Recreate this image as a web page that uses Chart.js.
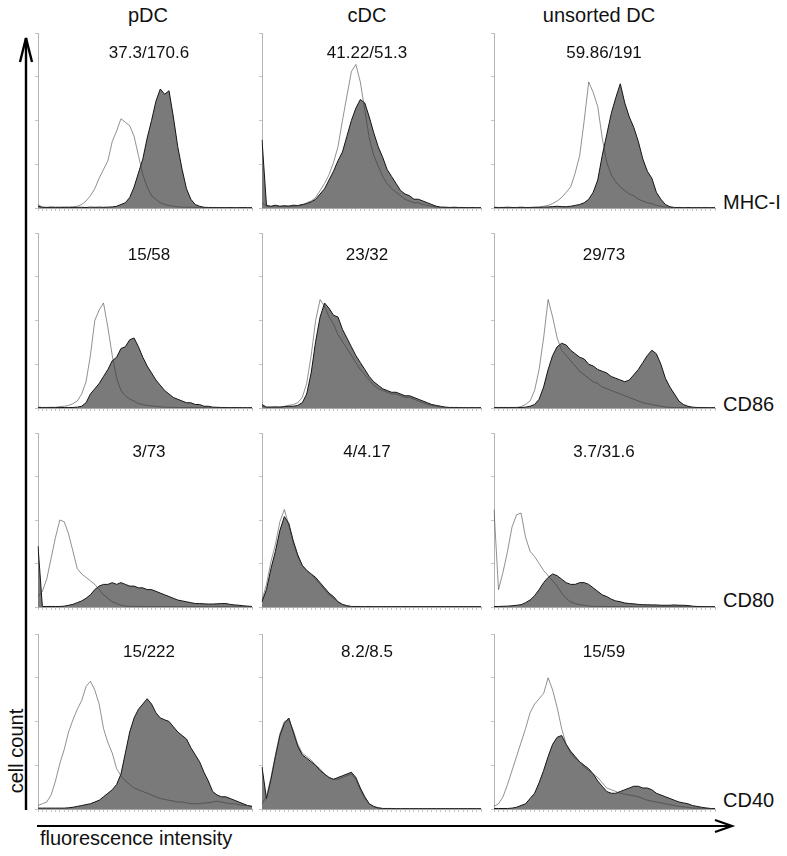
<!DOCTYPE html>
<html><head><meta charset="utf-8">
<script src="https://cdn.jsdelivr.net/npm/chart.js@4.4.1/dist/chart.umd.min.js"></script>
<style>
html,body{margin:0;padding:0;background:#fff;}
#fig{position:relative;width:787px;height:856px;overflow:hidden;font-family:"Liberation Sans",Arial,sans-serif;color:#111;}
.t{position:absolute;white-space:nowrap;font-size:20px;line-height:20px;}
.n{position:absolute;white-space:nowrap;font-size:17px;line-height:17px;transform:translateX(-50%);}
.p{position:absolute;display:block;}
svg{position:absolute;left:0;top:0;}
</style></head><body><div id="fig"></div>
<script>
// ---------- data ----------
const cellTypes = ['pDC', 'cDC', 'unsorted DC'];
const markers = ['MHC-I', 'CD86', 'CD80', 'CD40'];
const mfiLabels = [
  ['37.3/170.6', '41.22/51.3', '59.86/191'],
  ['15/58', '23/32', '29/73'],
  ['3/73', '4/4.17', '3.7/31.6'],
  ['15/222', '8.2/8.5', '15/59']
];
const channelBins = [0,1,2,3,4,5,6,7,8,9,10,11,12,13,14,15,16,17,18,19,20,21,22,23,24,25,26,27,28,29,30,31,32,33,34,35,36,37,38,39,40,41,42,43,44,45,46,47,48,49];

// MHC-I
const pdcMhcIso = [2,0.5,0.4,0.6,0.5,0.4,0.6,0.5,0.7,1, 2,4,7,11,17,22,27,38,44,51, 49,47,41,30,19,12,7,5,3,2, 1.5,1,0.6,0.5,0.4,0.5,0.3,0.4,0.3,0.3, 0.3,0.3,0.2,0.3,0.2,0.3,0.2,0.2,0.2,0.2];
const pdcMhcStain = [1,0.4,0.3,0.4,0.3,0.4,0.3,0.4,0.3,0.4, 0.4,0.3,0.5,0.4,0.5,0.4,0.5,0.6,1,2, 3,6,12,20,28,40,50,61,68,65, 67,52,35,22,11,5,2,1,0.4,0.3, 0.3,0.2,0.3,0.2,0.3,0.2,0.2,0.3,0.2,0.2];
const cdcMhcIso = [3,1,0.8,1.2,0.9,1,1.3,1,1.2,1.5, 3,4,6,10,14,19,26,35,50,64, 78,82,72,56,40,30,24,18,14,11, 9,7,5,4,3,3,2,1.5,1,0.5, 0.4,0.5,0.3,0.4,0.3,0.3,0.2,0.3,0.2,0.2];
const cdcMhcStain = [39,1.5,1,1.6,1,1.3,1,1.6,1.4,2, 2.5,3.5,5,8,11,16,21,27,32,41, 50,57,62,60,52,43,35,29,22,18, 14,10,8,7,5,5,4,3,2,1, 0.5,0.4,0.3,0.4,0.3,0.3,0.2,0.3,0.2,0.2];
const udcMhcIso = [0.5,0.3,0.3,0.4,0.3,0.3,0.4,0.3,0.3,0.4, 0.5,1,1.5,2.5,4,6,9,12,20,30, 50,72,66,58,40,26,19,15,12,10, 8,7,5,4,3,2.5,1.5,1,0.5,0.4, 0.3,0.3,0.3,0.2,0.3,0.2,0.2,0.2,0.2,0.2];
const udcMhcStain = [0.3,0.3,0.3,0.4,0.3,0.3,0.4,0.3,0.3,0.4, 0.4,0.5,0.6,0.8,1,0.8,0.7,1,1.5,2, 3,5,9,16,30,42,54,63,71,60, 52,46,38,28,21,17,9,5,2,0.7, 0.3,0.3,0.2,0.3,0.2,0.2,0.2,0.2,0.2,0.2];
// CD86
const pdcCd86Iso = [0.5,0.3,0.3,0.4,0.4,0.8,1,1.5,2.5,4, 8,15,30,50,56,60,46,30,17,10, 7,5,4,2.5,2,1.5,1.2,1,0.6,0.5, 0.4,0.4,0.3,0.3,0.3,0.3,0.2,0.3,0.2,0.2, 0.2,0.2,0.2,0.2,0.2,0.2,0.2,0.2,0.2,0.2];
const pdcCd86Stain = [0.3,0.3,0.3,0.3,0.3,0.3,0.3,0.3,0.3,0.5, 1,3,8,11,14,18,22,27,29,34, 35,39,40,35,29,24,20,16,13,10, 8,6,5,4,3,3,2,2,1,1, 0.5,0.4,0.3,0.3,0.2,0.3,0.2,0.2,0.2,0.2];
const cdcCd86Iso = [1,0.5,0.5,0.6,0.5,1,1.5,2,3,6, 14,30,50,62,58,52,48,42,38,34, 30,26,22,19,16,13,11,10,9,8, 8,7,6,6,5,4,3,2,1.5,1, 0.5,0.4,0.3,0.3,0.3,0.2,0.2,0.2,0.2,0.2];
const cdcCd86Stain = [2,0.5,0.5,0.6,0.5,0.8,1,1,1.5,3, 8,20,38,52,60,57,53,52,45,40, 35,30,26,22,18,15,13,11,10,9, 9,8,7,7,6,5,4,3,2,1.5, 1,0.5,0.3,0.3,0.3,0.2,0.2,0.2,0.2,0.2];
const udcCd86Iso = [0.3,0.3,0.3,0.3,0.3,0.3,0.8,2,4,10, 22,40,62,52,40,33,30,27,24,21, 19,17,15,14,12,11,10,9,8,7, 6,5,4,3,2.5,2,1.5,1,0.5,0.4, 0.3,0.3,0.3,0.2,0.3,0.2,0.2,0.2,0.2,0.2];
const udcCd86Stain = [0.3,0.3,0.3,0.3,0.3,0.3,0.3,0.5,1,2, 5,12,22,30,35,37,36,33,31,29, 28,25,24,22,21,20,18,17,16,15, 16,19,22,26,30,33,31,25,17,12, 8,4,2,1,0.5,0.3,0.3,0.2,0.2,0.2];
// CD80
const pdcCd80Iso = [6,9,16,28,40,50,49,42,32,22, 19,17,15,13,10,7,5,3,2,1, 0.5,0.4,0.3,0.3,0.3,0.2,0.3,0.2,0.2,0.2, 0.2,0.2,0.2,0.2,0.2,0.2,0.2,0.2,0.2,0.2, 0.2,0.2,0.2,0.2,0.2,0.2,0.2,0.2,0.2,0.2];
const pdcCd80Stain = [35,0.3,0.3,0.3,0.3,0.3,0.5,1,1.5,2.5, 3.5,5,7,10,12,13,13,14,13,14, 13,12,12,11,11,10,10,9,8,7, 6,5,4,3.5,3,2.5,2,2,1.8,1.7, 1.7,1.8,2,2,1.5,1.2,1,0.7,0.5,0.3];
const cdcCd80Iso = [4,13,26,36,49,56,47,37,29,24, 21,19,16,13,10,7,5,3,1.5,0.7, 0.3,0.3,0.2,0.3,0.2,0.2,0.2,0.2,0.2,0.2, 0.2,0.2,0.2,0.2,0.2,0.2,0.2,0.2,0.2,0.2, 0.2,0.2,0.2,0.2,0.2,0.2,0.2,0.2,0.2,0.2];
const cdcCd80Stain = [3,10,22,32,44,52,48,38,30,24, 21,19,17,14,11,8,6,3,1.5,0.7, 0.3,0.3,0.3,0.2,0.3,0.2,0.2,0.2,0.2,0.2, 0.2,0.2,0.2,0.2,0.2,0.2,0.2,0.2,0.2,0.2, 0.2,0.2,0.2,0.2,0.2,0.2,0.2,0.2,0.2,0.2];
const udcCd80Iso = [56,10,20,32,46,53,54,40,32,29, 25,21,18,15,12,8,5,3,2,1.3, 1,0.5,0.4,0.3,0.3,0.3,0.2,0.3,0.2,0.2, 0.2,0.2,0.2,0.2,0.2,0.2,0.2,0.2,0.2,0.2, 0.2,0.2,0.2,0.2,0.2,0.2,0.2,0.2,0.2,0.2];
const udcCd80Stain = [0.3,0.3,0.4,0.5,0.7,1,1.3,2.5,4,6.5, 10,14,17,19,18,16,14,13,13,14, 14,13,11,9,7,6,4.5,3.5,3,2.3, 2,1.8,1.5,1.3,1.3,1.2,1.2,1,1,1, 1.2,1,1,0.8,0.5,0.3,0.3,0.2,0.2,0.2];
// CD40
const pdcCd40Iso = [2,3,4,8,16,26,34,44,51,57, 62,70,73,68,60,46,38,32,23,19, 16,14,12,11,10,9,8,7,6,5.5, 5,4.5,4,4,3.5,3,3,3,3.5,3.5, 4,4.5,4,3.5,3,3,2.5,2,2,1.5];
const pdcCd40Stain = [0.5,0.5,0.5,0.5,0.5,0.5,0.5,0.7,1,1.5, 2,2.5,3,4,5,7,9,11,14,20, 32,44,52,57,60,63,60,55,52,51, 50,47,44,42,40,35,31,27,21,16, 10,8,7,7,6,5,4,3,2,1.5];
const cdcCd40Iso = [3,7,18,31,43,50,51,45,37,32, 30,28,25,23,20,18,17,17,18,19, 20,17,11,6,3,1.2,0.6,0.3,0.3,0.2, 0.2,0.2,0.2,0.2,0.2,0.2,0.2,0.2,0.2,0.2, 0.2,0.2,0.2,0.2,0.2,0.2,0.2,0.2,0.2,0.2];
const cdcCd40Stain = [24,6,17,30,42,49,52,44,36,31, 29,27,25,22,20,18,17,18,19,20, 21,18,12,7,3,1.5,0.7,0.3,0.3,0.3, 0.2,0.2,0.2,0.2,0.2,0.2,0.2,0.2,0.2,0.2, 0.2,0.2,0.2,0.2,0.2,0.2,0.2,0.2,0.2,0.2];
const udcCd40Iso = [1.5,3,7,14,22,30,38,46,55,60, 63,66,75,68,58,46,37,32,29,27, 24,22,20,18,15,12,11,10,9,8.5, 8,7.5,7,6,5,4.5,4,3.5,3,2.5, 2,1.5,1.2,1,0.5,0.5,0.4,0.3,0.3,0.2];
const udcCd40Stain = [0.3,0.3,0.3,0.3,0.5,1,2,3,6,9, 15,22,30,37,41,42,37,33,30,27, 25,23,20,16,13,10,9,9,10,11, 12,13,13,12,12,11,9,8,7,6, 5,4,3.5,3,2,1.5,1,0.6,0.3,0.3];

const isoSeries = [
  [pdcMhcIso, cdcMhcIso, udcMhcIso],
  [pdcCd86Iso, cdcCd86Iso, udcCd86Iso],
  [pdcCd80Iso, cdcCd80Iso, udcCd80Iso],
  [pdcCd40Iso, cdcCd40Iso, udcCd40Iso]
];
const stainSeries = [
  [pdcMhcStain, cdcMhcStain, udcMhcStain],
  [pdcCd86Stain, cdcCd86Stain, udcCd86Stain],
  [pdcCd80Stain, cdcCd80Stain, udcCd80Stain],
  [pdcCd40Stain, cdcCd40Stain, udcCd40Stain]
];

// ---------- layout ----------
const fig = document.getElementById('fig');
const colL = [38, 262, 494], colR = [252, 481, 715];
const rowT = [33, 233, 433, 634], rowB = [208, 408, 607, 809];
const numTop = [44, 246, 443, 643];
const numX = [149, 367, 604];
const headX = [148, 367, 599];
const markerTop = [192, 394, 590, 790];
const TICK = 3, PL = 1, PR = 2, PT = 2;

function addText(cls, txt, left, top, extra) {
  const d = document.createElement('div');
  d.className = cls; d.textContent = txt;
  d.style.left = left + 'px'; d.style.top = top + 'px';
  if (extra) Object.assign(d.style, extra);
  fig.appendChild(d);
  return d;
}

// arrows (decoration)
const svgNS = 'http://www.w3.org/2000/svg';
const svg = document.createElementNS(svgNS, 'svg');
svg.setAttribute('width', 787); svg.setAttribute('height', 856);
svg.innerHTML =
  '<line x1="26" y1="38" x2="26" y2="810" stroke="#000" stroke-width="2.4"/>' +
  '<polyline points="20,62 26,38 32,62" fill="none" stroke="#000" stroke-width="2.4"/>' +
  '<line x1="37" y1="826" x2="732" y2="826" stroke="#000" stroke-width="2.2"/>' +
  '<polyline points="715,820 732,826 715,832" fill="none" stroke="#000" stroke-width="2.2"/>';
fig.appendChild(svg);

cellTypes.forEach((c, j) => {
  const d = addText('t', c, headX[j], 5, {transform: 'translateX(-50%)'});
});
markers.forEach((m, i) => addText('t', m, 723, markerTop[i]));
addText('t', 'fluorescence intensity', 40, 828);
addText('t', 'cell count', 16, 751, {transform: 'translate(-50%,-50%) rotate(-90deg)', transformOrigin: 'center center'});

for (let r = 0; r < 4; r++) {
  for (let c = 0; c < 3; c++) {
    const w = colR[c] - colL[c], h = rowB[r] - rowT[r];
    const cv = document.createElement('canvas');
    const cw = w + TICK + PL + PR, ch = h + PT + TICK;
    cv.width = cw; cv.height = ch;
    cv.className = 'p';
    cv.style.width = cw + 'px'; cv.style.height = ch + 'px';
    cv.style.left = (colL[c] - TICK - PL) + 'px';
    cv.style.top = (rowT[r] - PT) + 'px';
    fig.appendChild(cv);
    new Chart(cv, {
      type: 'line',
      data: {
        labels: channelBins,
        datasets: [
          {data: isoSeries[r][c], borderColor: 'rgba(55,55,55,0.55)', borderWidth: 1, fill: false, pointRadius: 0, tension: 0},
          {data: stainSeries[r][c], borderColor: '#151515', backgroundColor: '#7a7a7a', borderWidth: 1, fill: 'origin', pointRadius: 0, tension: 0}
        ]
      },
      options: {
        responsive: false, animation: false, events: [],
        devicePixelRatio: 1,
        layout: {padding: {left: PL, right: PR, top: PT, bottom: 0}},
        plugins: {legend: {display: false}, tooltip: {enabled: false}},
        scales: {
          x: {type: 'category', offset: false,
              grid: {drawOnChartArea: false, drawTicks: true, tickLength: TICK, color: '#c4c4c4', lineWidth: 1},
              border: {color: '#a8a8a8', width: 1},
              ticks: {display: false}},
          y: {min: 0, max: 100,
              grid: {drawOnChartArea: false, drawTicks: true, tickLength: TICK, color: '#c4c4c4'},
              border: {color: '#b4b4b4', width: 1},
              ticks: {display: false, stepSize: 25}}
        }
      }
    });
    addText('n', mfiLabels[r][c], numX[c], numTop[r]);
  }
}
</script>
</body></html>
